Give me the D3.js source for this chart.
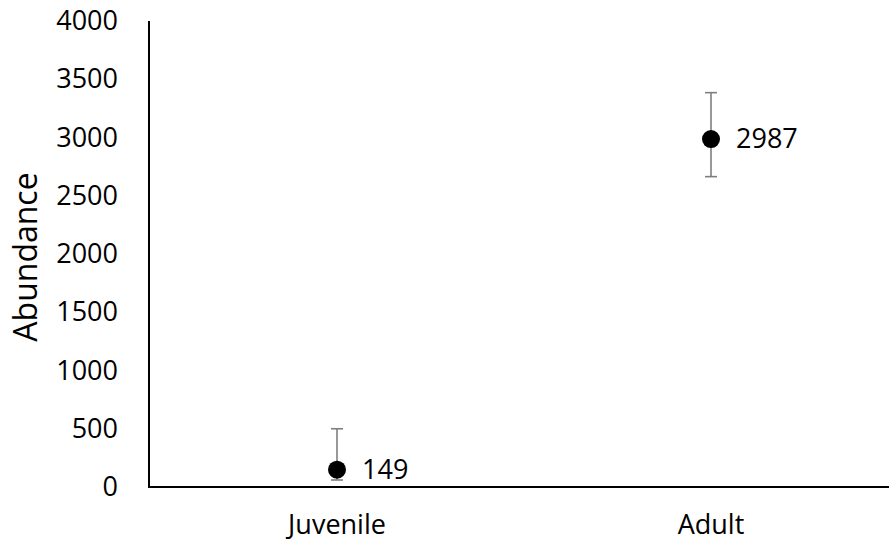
<!DOCTYPE html>
<html>
<head>
<meta charset="utf-8">
<script src="https://cdn.jsdelivr.net/npm/d3@7"></script>
<style>
  html, body { margin: 0; padding: 0; background: #fff; }
  svg { display: block; font-family: "Open Sans", sans-serif; }
</style>
</head>
<body>
<svg id="chart" width="889" height="542"></svg>
<script>
// Life stages and mean abundance with asymmetric error bounds
const stages = ["Juvenile", "Adult"];
const abundance = [149, 2987];
const errLow = [60, 2664];
const errHigh = [500, 3385];
const yTicks = [0, 500, 1000, 1500, 2000, 2500, 3000, 3500, 4000];

const width = 889, height = 542;
const svg = d3.select("#chart");

const x = d3.scaleBand().domain(stages).range([150, 898]);
const y = d3.scaleLinear().domain([0, 4000]).range([487, 21]);

const rows = stages.map((s, i) => ({ stage: s, v: abundance[i], lo: errLow[i], hi: errHigh[i] }));
const cx = d => x(d.stage) + x.bandwidth() / 2;

// Y axis (labels only; line drawn below)
const yAxis = svg.append("g")
  .attr("transform", "translate(149,0)")
  .call(d3.axisLeft(y).tickValues(yTicks).tickFormat(d3.format("d")).tickSize(0).tickPadding(31));
yAxis.select(".domain").remove();
yAxis.selectAll("text")
  .attr("font-family", "Open Sans, sans-serif")
  .attr("font-size", 27)
  .attr("fill", "#000");

// X axis category labels
const xAxis = svg.append("g")
  .attr("transform", "translate(0,487)")
  .call(d3.axisBottom(x).tickSize(0).tickPadding(28));
xAxis.select(".domain").remove();
xAxis.selectAll("text")
  .attr("font-family", "Open Sans, sans-serif")
  .attr("font-size", 27)
  .attr("fill", "#000");

// Axis lines
svg.append("line")
  .attr("x1", 149).attr("x2", 149)
  .attr("y1", y(4000)).attr("y2", y(0) + 1)
  .attr("stroke", "#000").attr("stroke-width", 2);
svg.append("line")
  .attr("x1", 148).attr("x2", width)
  .attr("y1", y(0)).attr("y2", y(0))
  .attr("stroke", "#000").attr("stroke-width", 2);

// Error bars
const eb = svg.append("g").attr("stroke", "#7f7f7f").attr("stroke-width", 1.6);
rows.forEach(d => {
  eb.append("line").attr("x1", cx(d)).attr("x2", cx(d)).attr("y1", y(d.hi)).attr("y2", y(d.lo));
  eb.append("line").attr("x1", cx(d) - 6).attr("x2", cx(d) + 6).attr("y1", y(d.hi)).attr("y2", y(d.hi));
  eb.append("line").attr("x1", cx(d) - 6).attr("x2", cx(d) + 6).attr("y1", y(d.lo)).attr("y2", y(d.lo));
});

// Points
svg.append("g").selectAll("circle").data(rows).join("circle")
  .attr("cx", cx).attr("cy", d => y(d.v)).attr("r", 9)
  .attr("fill", "#000");

// Value labels
svg.append("g").selectAll("text").data(rows).join("text")
  .attr("x", d => cx(d) + 25).attr("y", d => y(d.v))
  .attr("dy", "0.35em")
  .attr("font-size", 27)
  .attr("fill", "#000")
  .text(d => d.v);

// Y axis title
svg.append("text")
  .attr("transform", "translate(37,257) rotate(-90)")
  .attr("text-anchor", "middle")
  .attr("font-size", 32)
  .attr("fill", "#000")
  .text("Abundance");
</script>
</body>
</html>
